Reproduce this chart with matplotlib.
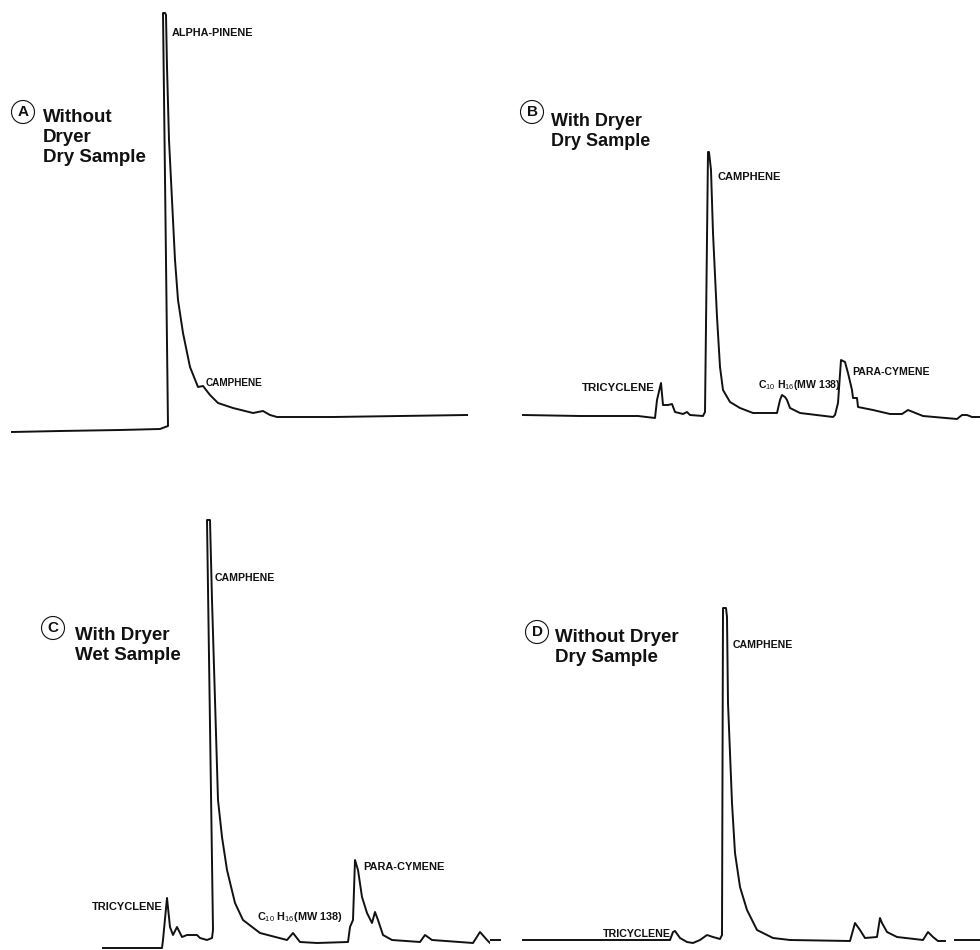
import matplotlib.pyplot as plt
import matplotlib.patches as mpatches

plt.rcParams["font.family"] = ["Liberation Sans", "DejaVu Sans"]
plt.rcParams["mathtext.fontset"] = "custom"
plt.rcParams["mathtext.rm"] = "Liberation Sans"
plt.rcParams["mathtext.bf"] = "Liberation Sans:bold"

# Chromatogram traces (time in chart mm, signal in chart mm)
a_time = [12, 60, 120, 160, 168, 163, 165, 166, 167, 169, 172, 175, 178, 183,
          190, 198, 203, 210, 218, 233, 253, 263, 270, 277, 333, 400, 467]
a_signal = [38, 39, 40, 41, 44, 457, 457, 455, 403, 330, 270, 210, 170, 137,
            103, 83, 84, 75, 67, 62, 57, 59, 55, 53, 53, 54, 55]

b_time = [33, 90, 148, 165, 167, 171, 173, 178, 182, 185, 193, 197, 200, 213,
          215, 218, 219, 221, 223, 227, 230, 233, 240, 250, 263, 287, 290, 292,
          295, 297, 300, 310, 343, 345, 348, 351, 355, 358, 362, 363, 367, 368,
          383, 400, 412, 418, 423, 433, 467, 472, 477, 482, 490]
b_signal = [55, 54, 54, 52, 70, 87, 65, 65, 66, 58, 56, 58, 55, 54,
            58, 318, 318, 300, 237, 153, 103, 80, 68, 62, 57, 57, 70, 75,
            73, 70, 62, 57, 53, 55, 67, 110, 108, 97, 80, 72, 72, 63,
            60, 56, 56, 60, 58, 54, 51, 55, 55, 53, 53]

c_time = [103, 162, 163, 167, 170, 173, 177, 182, 187, 197, 200, 207, 212, 213,
          207, 210, 212, 215, 218, 222, 227, 235, 243, 260, 287, 293, 300, 317,
          348, 350, 353, 355, 358, 362, 367, 372, 375, 378, 383, 392, 420, 425,
          432, 473, 480, 487, 490]
c_signal = [2, 2, 10, 52, 23, 15, 23, 13, 15, 15, 12, 10, 12, 20,
            430, 430, 350, 250, 150, 113, 80, 47, 30, 17, 10, 17, 8, 7,
            8, 23, 30, 90, 80, 53, 37, 27, 38, 30, 15, 10, 8, 15,
            10, 7, 18, 10, 7]

d_time = [33, 180, 183, 185, 190, 197, 203, 210, 217, 223, 230, 232, 233, 236,
          237, 238, 242, 245, 250, 257, 267, 283, 300, 360, 365, 370, 375, 387,
          390, 392, 397, 407, 433, 438, 443, 448, 455]
d_signal = [10, 10, 18, 19, 12, 8, 7, 10, 15, 13, 11, 15, 342, 342,
            333, 247, 147, 97, 63, 40, 20, 12, 10, 9, 27, 20, 12, 13,
            32, 27, 18, 13, 10, 18, 13, 9, 9]
d_stub_time = [[0, 10], [465, 490]]
d_stub_signal = [[10, 10], [10, 10]]

# Panel captions and peak labels
panel_letters = ["A", "B", "C", "D"]
panel_titles = [["Without", "Dryer", "Dry Sample"],
                ["With Dryer", "Dry Sample"],
                ["With Dryer", "Wet Sample"],
                ["Without Dryer", "Dry Sample"]]
c10 = "C$_{10}$ H$_{16}$(MW 138)"
peak_labels = [
    [("ALPHA-PINENE", 172, 437, 7.8), ("CAMPHENE", 206, 87, 7.2)],
    [("CAMPHENE", 717, 293, 8), ("TRICYCLENE", 582, 82, 8.2),
     (c10, 758, 85, 7.6), ("PARA-CYMENE", 852, 98, 7.6)],
    [("CAMPHENE", 215, 372, 7.6), ("TRICYCLENE", 92, 43, 8),
     (c10, 257, 33, 7.8), ("PARA-CYMENE", 363, 83, 7.9)],
    [("CAMPHENE", 733, 305, 7.6), ("TRICYCLENE", 603, 16, 7.7)],
]

fig = plt.figure(figsize=(9.8, 9.5), dpi=100)
fig.patch.set_facecolor("white")

# quadrant layout: [left, bottom, width, height]
boxes = [[0.0, 480 / 950, 0.5, 470 / 950],
         [0.5, 480 / 950, 0.5, 470 / 950],
         [0.0, 0.0, 0.5, 480 / 950],
         [0.5, 0.0, 0.5, 480 / 950]]
ylims = [470, 470, 480, 480]
x_offsets = [0, 490, 0, 490]
traces = [(a_time, a_signal), (b_time, b_signal),
          (c_time, c_signal), (d_time, d_signal)]

# circle centre and caption start for each panel
circ_xy = [(23, 358), (42, 358), (53, 322), (47, 318)]
title_x = [43, 61, 75, 65]
title_y = [352, 348, 315, 313]
title_size = [13.5, 13, 13.5, 13.5]

ink = "#111111"

for i in range(4):
    ax = fig.add_axes(boxes[i])
    ax.set_xlim(0, 490)
    ax.set_ylim(0, ylims[i])
    ax.axis("off")

    t, s = traces[i]
    ax.plot(t, s, color=ink, linewidth=1.4, solid_joinstyle="round")
    if i == 3:
        for st, ss in zip(d_stub_time, d_stub_signal):
            ax.plot(st, ss, color=ink, linewidth=1.4)

    # circled letter
    cx, cy = circ_xy[i]
    ax.add_patch(mpatches.Circle((cx, cy), 11.5, fill=False,
                                 edgecolor=ink, linewidth=0.8))
    ax.text(cx, cy, panel_letters[i], ha="center", va="center",
            fontsize=11, fontweight="bold", color=ink)

    # caption lines
    for k, line in enumerate(panel_titles[i]):
        ax.text(title_x[i], title_y[i] - 20 * k, line, ha="left",
                va="center", fontsize=title_size[i], fontweight="bold",
                color=ink)

    # peak labels
    for text, x, y, size in peak_labels[i]:
        ax.text(x - x_offsets[i], y, text, ha="left", va="center",
                fontsize=size, fontweight="bold", color=ink)

fig.savefig("out.png", dpi=100, facecolor="white")
